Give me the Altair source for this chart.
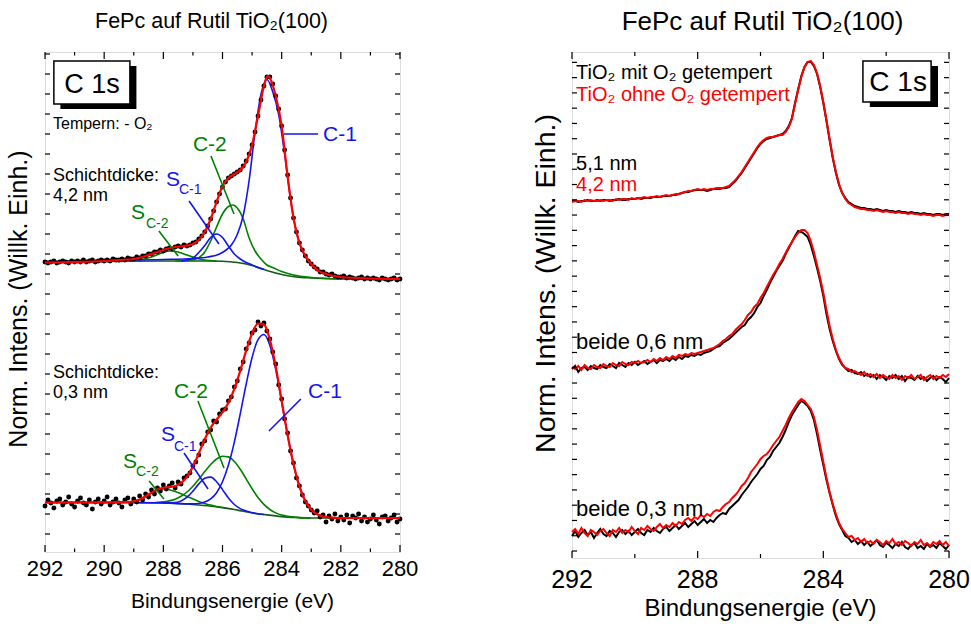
import altair as alt
import pandas as pd

FONT = "Liberation Sans"
BLACK = "#000000"
RED = "#ff0000"
BLUE = "#1414f0"
GREEN = "#008000"
BG_GREEN = "#145a14"

# Measurement grid: 292.0 eV down to 280.0 eV in 0.1 eV steps
ENERGY = [round(292.0 - 0.1 * i, 1) for i in range(121)]

# ---------------- left panel (peak fits), intensity in arbitrary units ----------------
# 4.2 nm film, measured points
THICK_DATA = [
    290, 289, 290, 291, 289, 290, 291, 290, 289, 291,
    290, 291, 290, 292, 290, 291, 292, 290, 291, 292,
    291, 292, 291, 293, 292, 292, 293, 292, 294, 293,
    293, 295, 294, 296, 296, 298, 298, 300, 300, 302,
    301, 303, 304, 303, 305, 306, 305, 307, 306, 307,
    309, 310, 313, 316, 320, 326, 333, 341, 350, 358,
    365, 370, 374, 376, 378, 380, 382, 386, 391, 398,
    407, 420, 436, 452, 466, 475, 475, 468, 456, 443,
    426, 402, 377, 354, 334, 320, 309, 302, 296, 291,
    288, 285, 283, 280, 280, 278, 277, 278, 276, 275,
    275, 276, 274, 275, 274, 273, 274, 275, 273, 274,
    273, 274, 273, 272, 274, 273, 272, 273, 274, 272,
    273,
]
# 0.3 nm film, measured points
THIN_DATA = [
    46, 52, 49, 44, 51, 53, 47, 50, 55, 48,
    45, 51, 54, 49, 47, 52, 43, 50, 53, 48,
    51, 55, 47, 50, 53, 49, 45, 52, 54, 48,
    53, 50, 56, 52, 58, 55, 62, 58, 64, 61,
    67, 63, 66, 69, 64, 70, 68, 74, 76, 79,
    86, 90, 97, 108, 111, 120, 122, 131, 130, 138,
    142, 143, 151, 155, 165, 171, 183, 190, 203, 209,
    219, 222, 230, 226, 229, 221, 213, 200, 188, 167,
    153, 133, 119, 101, 89, 74, 66, 57, 50, 46,
    42, 39, 41, 35, 37, 30, 36, 33, 38, 31,
    35, 32, 37, 29, 36, 34, 38, 31, 35, 30,
    33, 37, 32, 28, 35, 36, 31, 34, 37, 30,
    33,
]

# Fit envelope and components, 4.2 nm
FIT_THICK_E = [292, 291, 290, 289.5, 289, 288.6, 288.2, 287.9, 287.6, 287.3, 287.0, 286.8,
               286.6, 286.4, 286.2, 286.0, 285.8, 285.6, 285.4, 285.2, 285.0, 284.8, 284.6,
               284.5, 284.45, 284.4, 284.2, 284.0, 283.8, 283.6, 283.4, 283.2, 283.0, 282.8,
               282.5, 282.0, 281.0, 280.0]
FIT_THICK_I = [289.5, 290, 291, 292, 293, 296, 300, 303, 305, 306, 308, 312,
               320, 333, 350, 366, 374, 378, 382, 390, 407, 436, 466,
               475, 476, 474, 456, 426, 376, 334, 309, 296, 288, 282,
               278, 275, 273.5, 273]
BG_THICK_E = [292, 290, 288, 286.5, 286, 285.5, 285, 284.5, 284, 283.5, 283, 282, 280]
BG_THICK_I = [290, 290.5, 291, 291, 290.8, 289.5, 286.5, 281.5, 277.5, 275, 274, 273, 272.5]
C1_THICK_E = [292, 290, 288, 287, 286.5, 286.1, 285.9, 285.7, 285.5, 285.3, 285.1, 284.9, 284.7,
              284.5, 284.3, 284.1, 283.9, 283.7, 283.5, 283.3, 283.1, 282.9, 282.7, 282.4,
              282.0, 281.0, 280.0]
C1_THICK_I = [290.5, 291.5, 292.5, 293.5, 295, 298, 301.5, 307, 317.5, 336.5, 371.5, 420, 457.5,
              472.5, 460, 437.5, 398, 353, 319.5, 301, 292, 285, 280.5, 277.5,
              275, 273.5, 272.8]
SC1_THICK_E = [287.4, 287.0, 286.8, 286.6, 286.4, 286.2, 286.0, 285.8, 285.6, 285.4, 285.2, 285.0, 284.6]
SC1_THICK_I = [291, 294, 299.5, 306.5, 314.5, 318, 314.5, 306, 298, 293, 289.5, 287, 282.5]
C2_THICK_E = [287.6, 287.2, 286.9, 286.6, 286.4, 286.2, 286.0, 285.8, 285.65, 285.5, 285.3, 285.1,
              284.9, 284.7, 284.5, 284.3, 284.0, 283.6, 283.0, 282.0]
C2_THICK_I = [291, 291.5, 293, 300, 311, 325, 338, 345.5, 347, 344, 333, 314,
              301, 293, 287, 284.5, 280.5, 277, 274.5, 273]
SC2_THICK_E = [289.6, 289.2, 288.8, 288.4, 288.1, 287.8, 287.5, 287.2, 286.9, 286.6, 286.2]
SC2_THICK_I = [290.5, 291, 292, 295, 298.5, 301, 300, 297, 294, 292, 291]

# Fit envelope and components, 0.3 nm
FIT_THIN_E = [292, 290, 289.4, 289.2, 289.0, 288.8, 288.6, 288.4, 288.2, 288.0, 287.8, 287.6,
              287.4, 287.2, 287.0, 286.8, 286.6, 286.4, 286.2, 286.0, 285.8, 285.6, 285.4,
              285.2, 285.0, 284.8, 284.6, 284.4, 284.2, 284.0, 283.8, 283.6, 283.4, 283.2,
              283.0, 282.8, 282.6, 282.4, 282.0, 280.0]
FIT_THIN_I = [49.5, 49.6, 49.8, 50, 50.8, 52.6, 55.7, 59.3, 62.4, 64.3, 65, 66,
              69.1, 75.1, 85.4, 98.7, 112.8, 124.4, 132.5, 139.6, 149.2, 163.1, 181.4,
              201.3, 218.5, 228.5, 227.6, 212.5, 185.4, 151.4, 117.3, 88, 65.7, 51,
              42.2, 37.7, 35.5, 34.5, 34, 34]
BG_THIN_E = [292, 289, 288, 287, 286.5, 286, 285.5, 285, 284.5, 284, 283.5, 283, 282, 280]
BG_THIN_I = [49.5, 49.5, 49, 47.5, 46.2, 44.4, 41.9, 39.2, 37.1, 35.4, 34.5, 34, 34, 34]
C1_THIN_E = [292, 289, 288, 287.0, 286.8, 286.6, 286.4, 286.2, 286.0, 285.8, 285.6, 285.4,
             285.2, 285.0, 284.8, 284.6, 284.4, 284.2, 284.0, 283.8, 283.6, 283.4, 283.2,
             283.0, 282.8, 282.6, 282.4, 282.0, 280.0]
C1_THIN_I = [49.5, 49.5, 49.1, 48.1, 48.5, 49.9, 53.1, 59.3, 70.2, 86.9, 109.9, 138.1,
             167.9, 194.5, 212.3, 217.5, 206.7, 182.3, 149.9, 116.6, 87.7, 65.7, 51,
             42.2, 37.7, 35.5, 34.5, 34, 34]
SC1_THIN_E = [288.0, 287.6, 287.4, 287.2, 287.0, 286.8, 286.6, 286.4, 286.2, 286.0, 285.8,
              285.6, 285.4, 285.2, 285.0, 284.6]
SC1_THIN_I = [49, 49.4, 51.1, 54.8, 60.9, 68.1, 73.8, 74.9, 70.3, 62.4, 54,
              47.5, 43.4, 40.9, 39.2, 37.5]
C2_THIN_E = [289.0, 288.4, 288.2, 288.0, 287.8, 287.6, 287.4, 287.2, 287.0, 286.8, 286.6,
             286.4, 286.2, 286.0, 285.8, 285.6, 285.4, 285.2, 285.0, 284.8, 284.6, 284.4,
             284.2, 284.0, 283.8, 283.6, 283.4, 283.0]
C2_THIN_I = [49.5, 49.2, 49.6, 50.2, 51.1, 52.8, 55.7, 60, 65.8, 72.8, 80.4,
             87.5, 93, 95.8, 95.1, 90.5, 82.7, 73.1, 63.2, 54.5, 47.6, 42.5,
             39.1, 36.9, 35.7, 35, 34.4, 34]
SC2_THIN_E = [289.6, 289.4, 289.2, 289.0, 288.8, 288.6, 288.4, 288.2, 288.0, 287.8, 287.6,
              287.4, 287.2, 287.0, 286.8, 286.6, 286.4, 286.2, 286.0]
SC2_THIN_I = [49.5, 49.5, 49.9, 50.7, 52.5, 55.5, 59, 61.8, 63, 62.3, 60.6,
              58.3, 55.6, 53.1, 50.6, 48.5, 46.9, 45.5, 44.4]

# ---------------- right panel (comparison), intensity in arbitrary units ----------------
WITH_O2_51 = [
    357, 357, 356, 357, 357, 358, 357, 357, 358, 357,
    358, 358, 357, 358, 358, 359, 358, 358, 359, 359,
    359, 360, 359, 360, 360, 360, 361, 361, 361, 362,
    362, 362, 363, 363, 364, 365, 366, 366, 367, 368,
    368, 368, 368, 367, 368, 369, 369, 369, 370, 370,
    371, 374, 377, 381, 385, 390, 395, 400, 405, 410,
    414, 417, 419, 420, 421, 422, 423, 424, 427, 432,
    440, 455, 469, 482, 491, 496, 496, 492, 484, 471,
    455, 437, 418, 400, 385, 373, 365, 360, 356, 354,
    352, 351, 350, 350, 349, 349, 348, 349, 348, 347,
    348, 347, 347, 346, 347, 346, 346, 345, 346, 345,
    345, 344, 345, 344, 344, 343, 344, 344, 343, 344,
    344,
]
WITHOUT_O2_42 = [
    356, 357, 357, 356, 358, 357, 358, 357, 357, 358,
    357, 358, 358, 357, 359, 358, 359, 359, 358, 360,
    359, 360, 360, 361, 360, 361, 361, 362, 361, 362,
    363, 362, 363, 364, 364, 365, 366, 367, 367, 368,
    369, 368, 369, 368, 369, 369, 370, 370, 370, 371,
    372, 375, 378, 382, 386, 391, 396, 401, 406, 411,
    415, 418, 420, 421, 421, 422, 423, 423, 426, 431,
    439, 454, 468, 481, 491, 496, 497, 493, 485, 472,
    456, 438, 419, 401, 386, 374, 365, 359, 355, 353,
    351, 350, 349, 349, 348, 348, 347, 348, 347, 346,
    347, 346, 346, 345, 346, 345, 345, 344, 345, 344,
    344, 343, 344, 343, 343, 342, 343, 343, 342, 343,
    343,
]
WITH_O2_06 = [
    189, 192, 186, 190, 191, 188, 192, 190, 189, 193,
    191, 190, 194, 192, 190, 195, 193, 191, 195, 193,
    196, 193, 195, 197, 194, 196, 198, 195, 198, 197,
    199, 197, 200, 198, 201, 199, 202, 201, 203, 202,
    204, 203, 205, 206, 207, 209, 211, 212, 215, 217,
    219, 222, 225, 228, 231, 233, 238, 241, 245, 251,
    255, 262, 268, 275, 281, 287, 292, 297, 304, 310,
    316, 322, 327, 326, 324, 321, 313, 302, 290, 277,
    262, 244, 229, 217, 207, 199, 193, 190, 187, 188,
    185, 184, 186, 182, 184, 181, 183, 179, 183, 181,
    178, 182, 180, 183, 179, 182, 177, 181, 180, 178,
    182, 179, 181, 177, 180, 182, 178, 181, 179, 176,
    180,
]
WITHOUT_O2_06 = [
    191, 189, 192, 188, 193, 190, 189, 193, 191, 190,
    194, 192, 191, 195, 193, 192, 196, 194, 193, 196,
    195, 197, 195, 196, 198, 196, 199, 197, 200, 198,
    201, 199, 202, 200, 203, 202, 204, 203, 205, 204,
    205, 206, 207, 208, 209, 210, 212, 214, 217, 219,
    222, 224, 228, 231, 234, 238, 243, 246, 251, 254,
    260, 265, 271, 277, 283, 288, 294, 299, 305, 311,
    316, 321, 325, 328, 328, 325, 317, 306, 293, 280,
    265, 248, 232, 219, 208, 200, 194, 190, 189, 186,
    187, 185, 183, 186, 182, 184, 181, 184, 180, 183,
    181, 179, 183, 180, 182, 178, 182, 180, 183, 179,
    181, 183, 178, 181, 183, 179, 182, 180, 183, 181,
    184,
]
WITH_O2_03 = [
    22, 27, 21, 25, 28, 23, 26, 20, 25, 29,
    24, 22, 27, 25, 21, 26, 28, 24, 27, 23,
    26, 29, 25, 23, 28, 26, 30, 27, 25, 29,
    31, 27, 30, 33, 29, 32, 35, 31, 34, 37,
    33, 36, 39, 35, 38, 36, 40, 43, 45, 44,
    49, 52, 55, 58, 63, 67, 71, 76, 80, 84,
    89, 92, 98, 101, 107, 111, 115, 121, 128, 136,
    143, 148, 153, 157, 155, 152, 147, 138, 124, 108,
    93, 78, 65, 53, 42, 34, 28, 22, 20, 16,
    18, 14, 17, 13, 16, 12, 15, 18, 13, 11,
    15, 13, 10, 14, 12, 16, 11, 9, 13, 15,
    10, 12, 9, 14, 11, 13, 10, 15, 12, 9,
    13,
]
WITHOUT_O2_03 = [
    26, 29, 24, 30, 25, 22, 28, 26, 23, 27,
    29, 25, 22, 28, 26, 30, 25, 28, 26, 31,
    27, 24, 30, 28, 32, 29, 27, 31, 34, 30,
    33, 31, 35, 32, 36, 34, 38, 40, 37, 41,
    39, 43, 41, 44, 42, 46, 48, 47, 51, 54,
    56, 60, 63, 67, 72, 75, 80, 86, 90, 94,
    99, 102, 104, 108, 113, 117, 121, 127, 133, 140,
    146, 151, 156, 159, 157, 153, 149, 141, 128, 112,
    96, 80, 66, 54, 44, 35, 29, 25, 21, 22,
    18, 20, 16, 19, 15, 17, 14, 18, 16, 13,
    17, 15, 19, 14, 16, 13, 17, 15, 12, 16,
    14, 18, 13, 15, 12, 16, 14, 17, 13, 16,
    12,
]

# Axis tick values
L_MAJOR = [292, 290, 288, 286, 284, 282, 280]
L_MINOR = [291, 289, 287, 285, 283, 281]
R_MAJOR = [292, 288, 284, 280]
R_MINOR = [290, 286, 282]
L_YTICKS = [18 + 20 * k for k in range(25)]
R_YTICKS = [round(7 + 15.27 * k, 2) for k in range(33)]

X_TITLE = "Bindungsenergie (eV)"
Y_TITLE = "Norm. Intens. (Willk. Einh.)"

L_W, L_H = 355, 500
R_W, R_H = 377, 506

xl = alt.Scale(domain=[280, 292], reverse=True, nice=False, zero=False)
yl = alt.Scale(domain=[0, L_H], nice=False, zero=False)
xr = alt.Scale(domain=[280, 292], reverse=True, nice=False, zero=False)
yr = alt.Scale(domain=[0, R_H], nice=False, zero=False)


def X(xs, field="E"):
    return alt.X(f"{field}:Q", scale=xs, axis=None)


def Y(ys, field="I"):
    return alt.Y(f"{field}:Q", scale=ys, axis=None)


def curve(e, v, xs, ys, color, width):
    df = pd.DataFrame({"E": e, "I": v})
    return alt.Chart(df).mark_line(color=color, strokeWidth=width, interpolate="monotone").encode(
        x=X(xs), y=Y(ys), order=alt.Order("E:Q", sort="descending"))


def dots(values, xs, ys):
    df = pd.DataFrame({"E": ENERGY, "I": values})
    return alt.Chart(df).mark_circle(size=24, color=BLACK, opacity=1).encode(x=X(xs), y=Y(ys))


def label(text, e, v, xs, ys, size, color=BLACK, align="left"):
    df = pd.DataFrame({"E": [e], "I": [v], "t": [text]})
    return alt.Chart(df).mark_text(align=align, baseline="alphabetic", font=FONT,
                                   fontSize=size, color=color).encode(
        x=X(xs), y=Y(ys), text="t:N")


def leader(e1, i1, e2, i2, xs, ys, color):
    df = pd.DataFrame({"E": [e1], "E2": [e2], "I": [i1], "I2": [i2]})
    return alt.Chart(df).mark_rule(color=color, strokeWidth=1.6).encode(
        x=X(xs), x2="E2:Q", y=Y(ys), y2="I2:Q")


def badge(e1, e2, i1, i2, xs, ys, text, e_text, i_text, size):
    shadow = pd.DataFrame({"E": [e1 - 0.22], "E2": [e2 - 0.22], "I": [i1 - 5], "I2": [i2 - 5]})
    box = pd.DataFrame({"E": [e1], "E2": [e2], "I": [i1], "I2": [i2]})
    s = alt.Chart(shadow).mark_rect(color=BLACK).encode(x=X(xs), x2="E2:Q", y=Y(ys), y2="I2:Q")
    b = alt.Chart(box).mark_rect(fill="white", stroke=BLACK, strokeWidth=1.5).encode(
        x=X(xs), x2="E2:Q", y=Y(ys), y2="I2:Q")
    return [s, b, label(text, e_text, i_text, xs, ys, size, align="center")]


def frame(major, minor, yticks, xs, ys, w, h, major_len, minor_len, ylen,
          tick_font, tick_base, title_font, title_x, title_base,
          ytitle_font, ytitle_x, ytitle_y):
    """Inward ticks on all four sides, tick labels and axis titles."""
    layers = []
    for vals, ln in ((major, major_len), (minor, minor_len)):
        df = pd.DataFrame({"E": vals})
        layers.append(alt.Chart(df).mark_rule(color=BLACK, strokeWidth=1.2).encode(
            x=X(xs), y=alt.value(h), y2=alt.value(h - ln)))
        layers.append(alt.Chart(df).mark_rule(color=BLACK, strokeWidth=1.2).encode(
            x=X(xs), y=alt.value(0), y2=alt.value(ln)))
    dfy = pd.DataFrame({"I": yticks})
    layers.append(alt.Chart(dfy).mark_rule(color=BLACK, strokeWidth=1.2).encode(
        y=Y(ys), x=alt.value(0), x2=alt.value(ylen)))
    layers.append(alt.Chart(dfy).mark_rule(color=BLACK, strokeWidth=1.2).encode(
        y=Y(ys), x=alt.value(w - ylen), x2=alt.value(w)))
    # tick labels
    dfl = pd.DataFrame({"E": major, "t": [str(v) for v in major]})
    layers.append(alt.Chart(dfl).mark_text(align="center", baseline="alphabetic", font=FONT,
                                           fontSize=tick_font, color=BLACK).encode(
        x=X(xs), y=alt.value(tick_base), text="t:N"))
    # axis titles
    layers.append(alt.Chart(pd.DataFrame({"t": [X_TITLE]})).mark_text(
        align="center", baseline="alphabetic", font=FONT, fontSize=title_font,
        color=BLACK).encode(x=alt.value(title_x), y=alt.value(title_base), text="t:N"))
    layers.append(alt.Chart(pd.DataFrame({"t": [Y_TITLE]})).mark_text(
        align="center", baseline="middle", font=FONT, fontSize=ytitle_font, angle=270,
        color=BLACK).encode(x=alt.value(ytitle_x), y=alt.value(ytitle_y), text="t:N"))
    return layers


def title_text(text, x, y, size):
    df = pd.DataFrame({"t": [text]})
    return alt.Chart(df).mark_text(align="center", baseline="alphabetic", font=FONT,
                                   fontSize=size, color=BLACK).encode(
        x=alt.value(x), y=alt.value(y), text="t:N")


# ---------------- left panel ----------------
anchor = alt.Chart(pd.DataFrame({"t": [0]})).mark_rule(strokeOpacity=0, color="white").encode(
    x=alt.value(-44), x2=alt.value(-44), y=alt.value(-51), y2=alt.value(-50))

left_layers = [
    anchor,
    curve(BG_THICK_E, BG_THICK_I, xl, yl, BG_GREEN, 1.6),
    curve(SC2_THICK_E, SC2_THICK_I, xl, yl, GREEN, 1.6),
    curve(C2_THICK_E, C2_THICK_I, xl, yl, GREEN, 1.6),
    curve(SC1_THICK_E, SC1_THICK_I, xl, yl, BLUE, 1.6),
    curve(C1_THICK_E, C1_THICK_I, xl, yl, BLUE, 1.6),
    curve(BG_THIN_E, BG_THIN_I, xl, yl, BG_GREEN, 1.6),
    curve(SC2_THIN_E, SC2_THIN_I, xl, yl, GREEN, 1.6),
    curve(C2_THIN_E, C2_THIN_I, xl, yl, GREEN, 1.6),
    curve(SC1_THIN_E, SC1_THIN_I, xl, yl, BLUE, 1.6),
    curve(C1_THIN_E, C1_THIN_I, xl, yl, BLUE, 1.6),
    dots(THICK_DATA, xl, yl),
    dots(THIN_DATA, xl, yl),
    curve(FIT_THICK_E, FIT_THICK_I, xl, yl, RED, 2.2),
    curve(FIT_THIN_E, FIT_THIN_I, xl, yl, RED, 2.2),
    # component labels, 4.2 nm
    leader(283.92, 418, 282.77, 418, xl, yl, BLUE),
    label("C-1", 282.6, 411, xl, yl, 21, BLUE),
    leader(286.39, 396, 285.61, 338, xl, yl, GREEN),
    label("C-2", 287.0, 401, xl, yl, 21, GREEN),
    leader(287.13, 351, 286.12, 308, xl, yl, BLUE),
    label("S", 287.91, 366, xl, yl, 21, BLUE),
    label("C-1", 287.47, 358, xl, yl, 14, BLUE),
    leader(288.15, 321, 287.5, 296, xl, yl, GREEN),
    label("S", 289.09, 333, xl, yl, 21, GREEN),
    label("C-2", 288.59, 324, xl, yl, 14, GREEN),
    # component labels, 0.3 nm
    leader(284.43, 121, 283.35, 153, xl, yl, BLUE),
    label("C-1", 283.11, 154, xl, yl, 21, BLUE),
    leader(286.83, 151, 285.95, 84, xl, yl, GREEN),
    label("C-2", 287.64, 154, xl, yl, 21, GREEN),
    leader(287.30, 99, 286.49, 63, xl, yl, BLUE),
    label("S", 288.08, 111, xl, yl, 21, BLUE),
    label("C-1", 287.64, 101, xl, yl, 14, BLUE),
    leader(288.48, 71, 287.98, 53, xl, yl, GREEN),
    label("S", 289.36, 84, xl, yl, 21, GREEN),
    label("C-2", 288.92, 76, xl, yl, 14, GREEN),
    # sample notes
    label("Tempern: - O\u2082", 291.73, 423, xl, yl, 16),
    label("Schichtdicke:", 291.73, 371, xl, yl, 18),
    label("4,2 nm", 291.73, 351, xl, yl, 18),
    label("Schichtdicke:", 291.73, 174, xl, yl, 18),
    label("0,3 nm", 291.73, 154, xl, yl, 18),
    *badge(291.70, 289.13, 491, 448, xl, yl, "C 1s", 290.41, 459, 27),
    *frame(L_MAJOR, L_MINOR, L_YTICKS, xl, yl, L_W, L_H, 7, 3.5, 5,
           22, 524, 21, 187.5, 556, 25, -26, 247),
    title_text("FePc auf Rutil TiO\u2082(100)", 166.5, -24, 21.5),
]
left = alt.layer(*left_layers).properties(width=L_W, height=L_H)


# ---------------- right panel ----------------
def spectrum(values, color):
    df = pd.DataFrame({"E": ENERGY, "I": values})
    return alt.Chart(df).mark_line(color=color, strokeWidth=2).encode(
        x=X(xr), y=Y(yr), order=alt.Order("E:Q", sort="descending"))


right_layers = [
    spectrum(WITH_O2_51, BLACK),
    spectrum(WITHOUT_O2_42, RED),
    spectrum(WITH_O2_06, BLACK),
    spectrum(WITHOUT_O2_06, RED),
    spectrum(WITH_O2_03, BLACK),
    spectrum(WITHOUT_O2_03, RED),
    label("TiO\u2082 mit O\u2082 getempert", 291.87, 479, xr, yr, 20, BLACK),
    label("TiO\u2082 ohne O\u2082 getempert", 291.87, 457, xr, yr, 20, RED),
    label("5,1 nm", 291.87, 388, xr, yr, 20, BLACK),
    label("4,2 nm", 291.87, 367, xr, yr, 20, RED),
    label("beide 0,6 nm", 291.87, 209, xr, yr, 22, BLACK),
    label("beide 0,3 nm", 291.87, 42, xr, yr, 22, BLACK),
    *badge(282.74, 280.57, 497, 456, xr, yr, "C 1s", 281.62, 467, 28),
    *frame(R_MAJOR, R_MINOR, R_YTICKS, xr, yr, R_W, R_H, 7, 4, 5,
           25, 536, 24, 188.5, 564, 28.5, -26, 231.5),
    title_text("FePc auf Rutil TiO\u2082(100)", 190.5, -22, 26),
]
right = alt.layer(*right_layers).properties(width=R_W, height=R_H)

chart = alt.hconcat(left, right, spacing=172, bounds="flush", padding=0).configure_view(
    stroke=BLACK, strokeWidth=1.5
).configure(background="white")

chart.save("out.html", embed_options={"renderer": "svg", "actions": False})
